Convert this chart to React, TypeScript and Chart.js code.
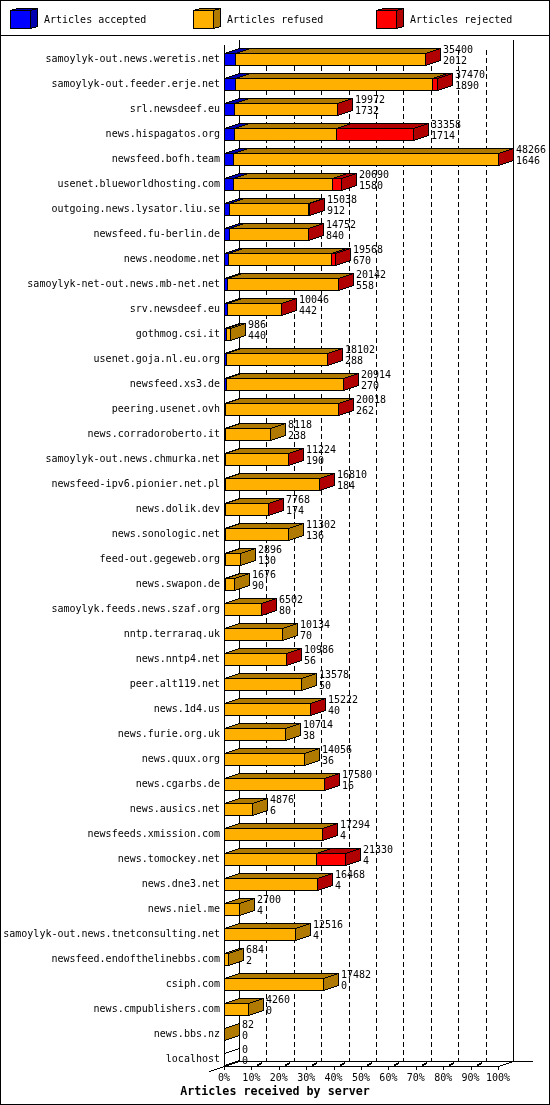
import React, { useEffect, useRef } from "react";
import { Chart, registerables } from "chart.js";

Chart.register(...registerables);

// =================================================================
// DATA
// =================================================================

const servers = [
  "samoylyk-out.news.weretis.net", "samoylyk-out.feeder.erje.net", "srl.newsdeef.eu", "news.hispagatos.org",
  "newsfeed.bofh.team", "usenet.blueworldhosting.com", "outgoing.news.lysator.liu.se", "newsfeed.fu-berlin.de",
  "news.neodome.net", "samoylyk-net-out.news.mb-net.net", "srv.newsdeef.eu", "gothmog.csi.it",
  "usenet.goja.nl.eu.org", "newsfeed.xs3.de", "peering.usenet.ovh", "news.corradoroberto.it",
  "samoylyk-out.news.chmurka.net", "newsfeed-ipv6.pionier.net.pl", "news.dolik.dev", "news.sonologic.net",
  "feed-out.gegeweb.org", "news.swapon.de", "samoylyk.feeds.news.szaf.org", "nntp.terraraq.uk",
  "news.nntp4.net", "peer.alt119.net", "news.1d4.us", "news.furie.org.uk",
  "news.quux.org", "news.cgarbs.de", "news.ausics.net", "newsfeeds.xmission.com",
  "news.tomockey.net", "news.dne3.net", "news.niel.me", "samoylyk-out.news.tnetconsulting.net",
  "newsfeed.endofthelinebbs.com", "csiph.com", "news.cmpublishers.com", "news.bbs.nz", "localhost",
];

// first number printed next to each bar
const offered = [
  35400, 37470, 19972, 33358, 48266, 20690, 15038, 14752, 19568, 20142, 10046, 986, 18102, 20914,
  20018, 8118, 11224, 16810, 7768, 11302, 2896, 1676, 6502, 10134, 10986, 13578, 15222, 10714,
  14056, 17580, 4876, 17294, 21330, 16468, 2700, 12516, 684, 17482, 4260, 82, 0,
];
const accepted = [
  2012, 1890, 1732, 1714, 1646, 1580, 912, 840, 670, 558, 442, 440, 288, 270,
  262, 238, 190, 184, 174, 136, 130, 90, 80, 70, 56, 50, 40, 38,
  36, 16, 6, 4, 4, 4, 4, 4, 2, 0, 0, 0, 0,
];
const refused = [
  33368, 34740, 18220, 18054, 46590, 17510, 13826, 13892, 18178, 19564, 9584, 546, 17794, 20624,
  19736, 7880, 11014, 16606, 7574, 11166, 2766, 1586, 6402, 10064, 10910, 13528, 15162, 10676,
  14020, 17544, 4870, 17270, 16120, 16444, 2696, 12512, 682, 17482, 4260, 82, 0,
];
const rejected = [
  20, 840, 20, 13590, 30, 1600, 300, 20, 720, 20, 20, 0, 20, 20,
  20, 0, 20, 20, 20, 0, 0, 0, 20, 0, 20, 0, 20, 0,
  0, 20, 0, 20, 5206, 20, 0, 0, 0, 0, 0, 0, 0,
];

const seriesNames = ["Articles accepted", "Articles refused", "Articles rejected"];
const chartTitle = "Articles received by server";
const frontColors = ["#0000ff", "#ffb000", "#ff0000"];
const darkColors = ["#0000b0", "#b07900", "#b00000"];
const xMax = 48266;
const percentTicks = [0, 10, 20, 30, 40, 50, 60, 70, 80, 90, 100];

const MONO = "'DejaVu Sans Mono', monospace";
const FONT = `10px ${MONO}`;
const DEPTH_X = 15;
const DEPTH_Y = 5;

// =================================================================
// PIXEL HELPERS (the original is a GD image, no antialiasing)
// =================================================================

const plot = (ctx: CanvasRenderingContext2D, x: number, y: number) => ctx.fillRect(x, y, 1, 1);

const line = (ctx: CanvasRenderingContext2D, x0: number, y0: number, x1: number, y1: number, on = 0, off = 0) => {
  const dx = Math.abs(x1 - x0);
  const dy = Math.abs(y1 - y0);
  const sx = x0 < x1 ? 1 : -1;
  const sy = y0 < y1 ? 1 : -1;
  let err = dx - dy;
  let x = x0;
  let y = y0;
  let n = 0;
  ctx.fillStyle = "#000";
  while (true) {
    if (!on || n % (on + off) < on) plot(ctx, x, y);
    if (x === x1 && y === y1) break;
    const e2 = 2 * err;
    if (e2 > -dy) { err -= dy; x += sx; }
    if (e2 < dx) { err += dx; y += sy; }
    n++;
  }
};

const polygon = (ctx: CanvasRenderingContext2D, pts: number[][], fill: string | null) => {
  if (fill) {
    ctx.fillStyle = fill;
    ctx.beginPath();
    pts.forEach(([x, y], i) => (i ? ctx.lineTo(x + 0.5, y + 0.5) : ctx.moveTo(x + 0.5, y + 0.5)));
    ctx.closePath();
    ctx.fill();
  }
  pts.forEach(([x, y], i) => {
    const [nx, ny] = pts[(i + 1) % pts.length];
    line(ctx, x, y, nx, ny);
  });
};

const box3d = (ctx: CanvasRenderingContext2D, x0: number, y0: number, x1: number, y1: number, dx: number, dy: number, front: string, dark: string) => {
  polygon(ctx, [[x0, y0], [x1, y0], [x1 + dx, y0 - dy], [x0 + dx, y0 - dy]], dark);
  polygon(ctx, [[x1, y0], [x1 + dx, y0 - dy], [x1 + dx, y1 - dy], [x1, y1]], dark);
  ctx.fillStyle = front;
  ctx.fillRect(x0, y0, x1 - x0, y1 - y0);
  polygon(ctx, [[x0, y0], [x1, y0], [x1, y1], [x0, y1]], null);
};

// =================================================================
// 3D PLUGIN
// =================================================================

const bars3d = {
  id: "bars3d",
  // gd rectangles include their last pixel: snap bars so neighbours share a border
  afterDatasetsUpdate(chart: any) {
    chart.data.datasets.forEach((_: any, d: number) => {
      chart.getDatasetMeta(d).data.forEach((el: any) => {
        el.base = Math.round(el.base);
        el.x = Math.round(el.x) + 1;
      });
    });
  },
  beforeDraw(chart: any) {
    const { ctx, width, height } = chart;
    ctx.save();
    ctx.fillStyle = "#fff";
    ctx.fillRect(0, 0, width, height);
    // frame and legend strip
    ctx.fillStyle = "#000";
    ctx.fillRect(0, 0, width, 1);
    ctx.fillRect(0, height - 1, width, 1);
    ctx.fillRect(0, 0, 1, height);
    ctx.fillRect(width - 1, 0, 1, height);
    ctx.fillRect(0, 35, width, 1);
    const legendX = [10, 193, 376];
    seriesNames.forEach((name, i) => {
      box3d(ctx, legendX[i], 10, legendX[i] + 20, 28, 7, 2, frontColors[i], darkColors[i]);
      ctx.fillStyle = "#000";
      ctx.font = FONT;
      ctx.textBaseline = "middle";
      ctx.textAlign = "left";
      ctx.fillText(name, legendX[i] + 34, 20);
    });
    // the title is centred on the whole image, not on what the layout leaves over
    ctx.font = `bold 11.67px ${MONO}`;
    ctx.textAlign = "center";
    ctx.fillStyle = "#000";
    ctx.fillText(chartTitle, width / 2, 1092);
    ctx.restore();
  },
  beforeDatasetsDraw(chart: any) {
    const { ctx, scales } = chart;
    const xs = scales.x;
    const ys = scales.y;
    const left = Math.round(xs.getPixelForValue(0));
    const right = Math.round(xs.getPixelForValue(xMax));
    const floor = Math.round(ys.getPixelForValue(servers.length - 1)) + 6;
    const top = 45;
    ctx.save();

    // back wall grid
    percentTicks.slice(1, -1).forEach((p) => {
      const x = Math.round(xs.getPixelForValue((xMax * p) / 100)) + DEPTH_X;
      line(ctx, x, top + DEPTH_Y, x, floor - DEPTH_Y, 5, 3);
    });
    line(ctx, left + DEPTH_X, top - DEPTH_Y, left + DEPTH_X, floor - DEPTH_Y);
    line(ctx, right + DEPTH_X, top - DEPTH_Y, right + DEPTH_X, floor - DEPTH_Y);
    line(ctx, left, top, left, floor);

    // floor
    line(ctx, left - DEPTH_X, floor + DEPTH_Y, left + DEPTH_X, floor - DEPTH_Y);
    line(ctx, left, floor, right, floor);
    line(ctx, left + DEPTH_X, floor - DEPTH_Y, right + DEPTH_X + 19, floor - DEPTH_Y);
    line(ctx, right, floor, right + DEPTH_X, floor - DEPTH_Y);
    percentTicks.forEach((p) => {
      const x = Math.round(xs.getPixelForValue((xMax * p) / 100));
      line(ctx, x, floor, x, floor + 3);
      if (p > 0 && p < 100) {
        line(ctx, x + 6, floor - 2, x + 10, floor - 4);
        line(ctx, x + 6, floor - 1, x + 10, floor - 3);
      }
    });

    // top and side faces of every bar
    servers.forEach((_, i) => {
      let last = -1;
      let endX = left;
      let y0 = 0;
      let y1 = 0;
      chart.data.datasets.forEach((ds: any, d: number) => {
        const el = chart.getDatasetMeta(d).data[i];
        y0 = Math.round(el.y - el.height / 2);
        y1 = y0 + 12;
        if (!ds.data[i]) return;
        const x0 = el.base;
        const x1 = el.x - 1;
        polygon(ctx, [[x0, y0], [x1, y0], [x1 + DEPTH_X, y0 - DEPTH_Y], [x0 + DEPTH_X, y0 - DEPTH_Y]], darkColors[d]);
        last = d;
        endX = x1;
      });
      polygon(
        ctx,
        [[endX, y0], [endX + DEPTH_X, y0 - DEPTH_Y], [endX + DEPTH_X, y1 - DEPTH_Y], [endX, y1]],
        last >= 0 ? darkColors[last] : null
      );
    });
    ctx.restore();
  },
  afterDatasetsDraw(chart: any) {
    const { ctx } = chart;
    const lastMeta = chart.getDatasetMeta(chart.data.datasets.length - 1);
    ctx.save();
    ctx.fillStyle = "#000";
    ctx.font = FONT;
    ctx.textAlign = "left";
    ctx.textBaseline = "middle";
    servers.forEach((_, i) => {
      const el = lastMeta.data[i];
      const x = el.x - 1 + DEPTH_X + 3;
      ctx.fillText(String(offered[i]), x, el.y - 9.5);
      ctx.fillText(String(accepted[i]), x, el.y + 1.5);
    });
    ctx.restore();
  },
};

// =================================================================
// CHART COMPONENT
// =================================================================

const App: React.FC = () => {
  const canvasRef = useRef<HTMLCanvasElement | null>(null);

  useEffect(() => {
    document.body.style.margin = "0";
    if (!canvasRef.current) return;

    const series = [accepted, refused, rejected];
    const chart = new Chart(canvasRef.current, {
      type: "bar",
      data: {
        labels: servers,
        datasets: series.map((data, i) => ({
          label: seriesNames[i],
          data,
          backgroundColor: frontColors[i],
          borderColor: "#000",
          borderWidth: 1,
          borderSkipped: false,
          inflateAmount: 0,
          barThickness: 13,
        })),
      },
      options: {
        indexAxis: "y",
        responsive: false,
        animation: false,
        devicePixelRatio: 1,
        layout: { padding: { top: 47, right: 52, bottom: 20, left: 0 } },
        plugins: {
          legend: { display: false },
          tooltip: { enabled: false },
        },
        scales: {
          x: {
            stacked: true,
            min: 0,
            max: xMax,
            afterBuildTicks: (scale: any) => {
              scale.ticks = percentTicks.map((p) => ({ value: (xMax * p) / 100 }));
            },
            afterFit: (scale: any) => { scale.height = 13; },
            grid: { display: false, drawTicks: false },
            border: { display: false },
            ticks: {
              autoSkip: false,
              maxRotation: 0,
              padding: 0,
              color: "#000",
              font: { family: MONO, size: 10 },
              callback: (_: any, index: number) => `${percentTicks[index]}%`,
            },
          },
          y: {
            stacked: true,
            afterFit: (scale: any) => { scale.width = 224; },
            grid: { display: false, drawTicks: false },
            border: { display: false },
            ticks: {
              autoSkip: false,
              padding: 4,
              color: "#000",
              font: { family: MONO, size: 10 },
            },
          },
        },
      } as any,
      plugins: [bars3d],
    });

    return () => chart.destroy();
  }, []);

  return <canvas ref={canvasRef} width={550} height={1105} style={{ display: "block" }} />;
};

export default App;
